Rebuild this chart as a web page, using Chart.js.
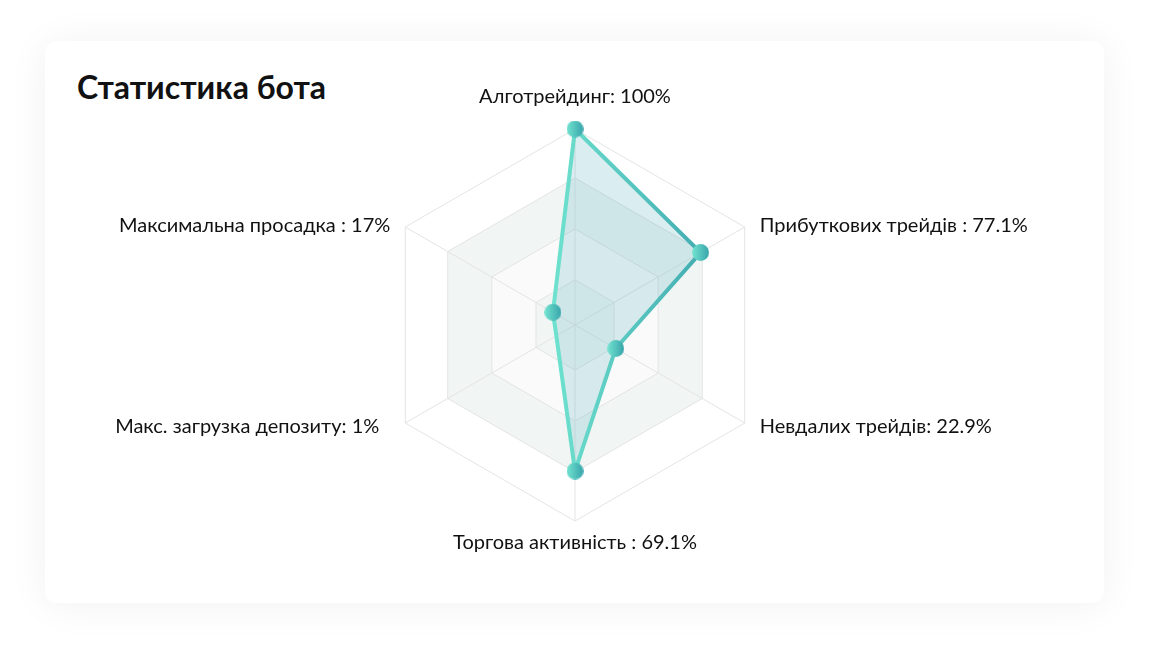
<!DOCTYPE html>
<html>
<head>
<meta charset="utf-8">
<script src="https://cdn.jsdelivr.net/npm/chart.js@4.4.1/dist/chart.umd.min.js"></script>
<style>
  html, body { margin:0; padding:0; width:1149px; height:653px; overflow:hidden; background:#ffffff; font-family: Lato, "Open Sans", sans-serif; }
  .card { position:absolute; left:45px; top:41px; width:1059px; height:562px; background:#ffffff; border-radius:12px; box-shadow:0 2px 40px rgba(0,0,0,0.06); }
  .title { position:absolute; left:77px; top:68px; font-family:Lato, sans-serif; font-weight:700; font-size:32px; line-height:1.2; color:#111111; white-space:nowrap; }
  #wrap { position:absolute; left:0; top:0; width:1149px; height:653px; }
</style>
</head>
<body>
<div class="card"></div>
<div class="title">Статистика бота</div>
<div id="wrap"><canvas id="c"></canvas></div>
<script>
// ---- data ----
const categories = [
  'Алготрейдинг: 100%',
  'Прибуткових трейдів : 77.1%',
  'Невдалих трейдів: 22.9%',
  'Торгова активність : 69.1%',
  'Макс. загрузка депозиту: 1%',
  'Максимальна просадка : 17%'
];
const plottedValues = [100, 74, 24, 74.5, 11, 13];
const ringTicks = [0, 23, 49, 75, 100];

// ---- styles ----
const bandColors = ['#ffffff', '#f1f5f4', '#fafafa', '#f1f5f4']; // outermost band first
const markerRadius = [8, 8, 8, 8, 0, 8];

function makeMarker() {
  const size = 17;
  const cv = document.createElement('canvas');
  cv.width = size; cv.height = size;
  const c = cv.getContext('2d');
  const g = c.createLinearGradient(0, 0, size, 0);
  g.addColorStop(0, '#72e4d1');
  g.addColorStop(1, '#38a4aa');
  c.fillStyle = g;
  c.beginPath();
  c.arc(size / 2, size / 2, 8.4, 0, Math.PI * 2);
  c.fill();
  return cv;
}
const marker = makeMarker();

const bandsPlugin = {
  id: 'bands',
  beforeDraw(chart) {
    const s = chart.scales.r;
    const ctx = chart.ctx;
    const n = chart.data.labels.length;
    const vals = ringTicks.slice(1).reverse();
    ctx.save();
    vals.forEach((v, k) => {
      const d = s.getDistanceFromCenterForValue(v);
      ctx.beginPath();
      for (let i = 0; i < n; i++) {
        const p = s.getPointPosition(i, d);
        if (i === 0) ctx.moveTo(p.x, p.y); else ctx.lineTo(p.x, p.y);
      }
      ctx.closePath();
      ctx.fillStyle = bandColors[k];
      ctx.fill();
    });
    ctx.restore();
  }
};

const labelPlugin = {
  id: 'axisNames',
  afterDraw(chart) {
    const s = chart.scales.r;
    const ctx = chart.ctx;
    const labels = chart.data.labels;
    ctx.save();
    ctx.font = '20px Lato, sans-serif';
    ctx.fillStyle = '#111111';
    ctx.textBaseline = 'alphabetic';
    labels.forEach((txt, i) => {
      const p = s.getPointPosition(i, s.drawingArea);
      let x = p.x, y = p.y;
      const dx = p.x - s.xCenter, dy = p.y - s.yCenter;
      if (Math.abs(dx) < 1) {
        ctx.textAlign = 'center';
        y = dy < 0 ? p.y - 26 : p.y + 28.3;
      } else {
        const gap = (i === 4) ? 26 : 15;
        ctx.textAlign = dx > 0 ? 'left' : 'right';
        x = dx > 0 ? p.x + gap : p.x - gap;
        y = dy < 0 ? p.y + 4.7 : p.y + 10.3;
      }
      ctx.fillText(txt, x, y);
    });
    ctx.restore();
  }
};

new Chart(document.getElementById('c'), {
  type: 'radar',
  data: {
    labels: categories,
    datasets: [{
      data: plottedValues,
      fill: true,
      backgroundColor: 'rgba(72,170,185,0.2)',
      borderColor: (ctx) => {
        const ch = ctx.chart;
        const s = ch.scales.r;
        if (!s || !s.drawingArea) return '#5fd3c6';
        const g = ch.ctx.createLinearGradient(s.xCenter - 20, 0, s.xCenter + 135, 0);
        g.addColorStop(0, '#6de1ce');
        g.addColorStop(1, '#40a9af');
        return g;
      },
      borderWidth: 4,
      pointStyle: marker,
      pointRadius: markerRadius,
      pointHoverRadius: markerRadius,
      tension: 0
    }]
  },
  options: {
    responsive: true,
    maintainAspectRatio: false,
    animation: false,
    layout: { padding: { top: 129, bottom: 132, left: 100, right: 99 } },
    plugins: { legend: { display: false }, tooltip: { enabled: false } },
    scales: {
      r: {
        min: 0,
        max: 100,
        afterBuildTicks: (scale) => { scale.ticks = ringTicks.map(v => ({ value: v })); },
        ticks: { display: false },
        pointLabels: { display: false },
        grid: { color: '#e4e4e4', lineWidth: 1 },
        angleLines: { color: '#e4e4e4', lineWidth: 1 }
      }
    }
  },
  plugins: [bandsPlugin, labelPlugin]
});
</script>
</body>
</html>
